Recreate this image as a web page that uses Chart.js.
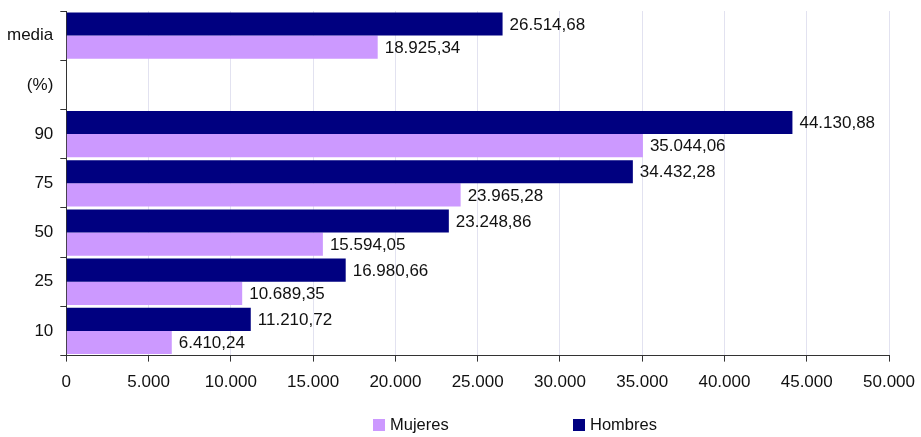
<!DOCTYPE html>
<html>
<head>
<meta charset="utf-8">
<script src="https://cdn.jsdelivr.net/npm/chart.js@4/dist/chart.umd.min.js"></script>
<style>
  html, body { margin: 0; padding: 0; background: #fff; }
  #wrap { width: 921px; height: 437px; }
</style>
</head>
<body>
<div id="wrap"><canvas id="salaryChart"></canvas></div>
<script>
const categories = ['media', '(%)', '90', '75', '50', '25', '10'];
const hombres = [26514.68, null, 44130.88, 34432.28, 23248.86, 16980.66, 11210.72];
const mujeres = [18925.34, null, 35044.06, 23965.28, 15594.05, 10689.35, 6410.24];
const xTicks = [0, 5000, 10000, 15000, 20000, 25000, 30000, 35000, 40000, 45000, 50000];

const FONT = '"Liberation Sans", Arial, sans-serif';

// spanish style numbers: 26.514,68
function fmt(v, dec) {
  const parts = v.toFixed(dec).split('.');
  const int = parts[0].replace(/\B(?=(\d{3})+(?!\d))/g, '.');
  return dec ? int + ',' + parts[1] : int;
}

const valueLabels = {
  id: 'valueLabels',
  afterDatasetsDraw(chart) {
    const ctx = chart.ctx;
    ctx.save();
    ctx.font = '17px ' + FONT;
    ctx.fillStyle = '#111';
    ctx.textAlign = 'left';
    ctx.textBaseline = 'middle';
    chart.data.datasets.forEach((ds, i) => {
      chart.getDatasetMeta(i).data.forEach((bar, j) => {
        const v = ds.data[j];
        if (v == null) return;
        ctx.fillText(fmt(v, 2), bar.x + 7, bar.y + 1);
      });
    });
    ctx.restore();
  }
};

// legend drawn by hand: the built-in one grows tall when item spacing is wide
const wideLegend = {
  id: 'wideLegend',
  afterDraw(chart) {
    const ctx = chart.ctx;
    const order = [1, 0]; // Mujeres first
    const xs = [373, 573];
    const y = chart.height - 12;
    ctx.save();
    ctx.font = '16.5px ' + FONT;
    ctx.textBaseline = 'middle';
    ctx.textAlign = 'left';
    order.forEach((di, k) => {
      const ds = chart.data.datasets[di];
      ctx.fillStyle = ds.backgroundColor;
      ctx.fillRect(xs[k], y - 6, 12, 12);
      ctx.fillStyle = '#111';
      ctx.fillText(ds.label, xs[k] + 17, y);
    });
    ctx.restore();
  }
};

new Chart(document.getElementById('salaryChart'), {
  type: 'bar',
  data: {
    labels: categories,
    datasets: [
      { label: 'Hombres', data: hombres, backgroundColor: '#000080' },
      { label: 'Mujeres', data: mujeres, backgroundColor: '#CC99FF' }
    ]
  },
  options: {
    indexAxis: 'y',
    responsive: true,
    maintainAspectRatio: false,
    animation: false,
    layout: { padding: { left: 0, right: 32, top: 11, bottom: 33 } },
    datasets: { bar: { categoryPercentage: 0.94, barPercentage: 1.0 } },
    scales: {
      x: {
        min: 0,
        max: 50000,
        afterBuildTicks: axis => { axis.ticks = xTicks.map(v => ({ value: v })); },
        afterFit: s => { s.paddingLeft = 0; s.paddingRight = 0; },
        grid: { color: '#e2e2f0', tickColor: '#333', tickLength: 6 },
        border: { color: '#333' },
        ticks: {
          color: '#111',
          font: { family: FONT, size: 17 },
          padding: 11,
          callback: v => fmt(v, 0)
        }
      },
      y: {
        afterFit: s => { s.paddingTop = 0; s.paddingBottom = 0; },
        grid: { offset: true, drawOnChartArea: false, tickColor: '#333', tickLength: 6 },
        border: { color: '#333' },
        ticks: {
          color: '#111',
          font: { family: FONT, size: 17 },
          padding: 7
        }
      }
    },
    plugins: {
      legend: { display: false },
      tooltip: { enabled: false }
    }
  },
  plugins: [valueLabels, wideLegend]
});
</script>
</body>
</html>
